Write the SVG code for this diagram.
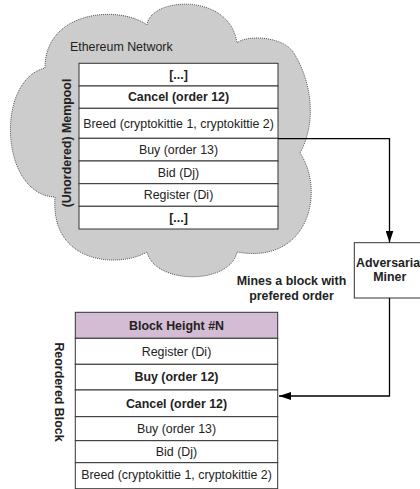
<svg xmlns="http://www.w3.org/2000/svg" width="420" height="489" viewBox="0 0 420 489">
<defs>
<style>
.t{font-family:"Liberation Sans",Arial,sans-serif;font-size:12.4px;fill:#222;text-anchor:middle}
.b{font-weight:bold}
.row{fill:#fff;stroke:#333;stroke-width:1}
.hdr{fill:#d4bdd4;stroke:#333;stroke-width:1}
.cloud{fill:#cccccc;stroke:#555;stroke-width:1;stroke-dasharray:1 1}
.conn{fill:none;stroke:#000;stroke-width:1.3}
</style>
<marker id="ah" markerWidth="12" markerHeight="8" refX="12" refY="4" orient="auto" markerUnits="userSpaceOnUse">
<path d="M0,0 L12,4 L0,8 Z" fill="#000"/>
</marker>
</defs>
<rect width="420" height="489" fill="#fff"/>
<g id="cloud">
<path class="cloud" d="M45,68 C45,10 120,5 147,25 C150,-3 230,-8 237,43 C245,35 285,35 295,55 C310,80 318,120 300,153 C325,190 310,265 237,252 C230,285 155,285 147,252 C120,268 50,265 55,197 C0,195 -5,80 45,68 Z"/>
<text class="t" x="70" y="50.5" style="text-anchor:start">Ethereum Network</text>
</g>
<g id="mempool">
<rect class="row" x="79" y="63.3" width="199" height="22.7"/>
<rect class="row" x="79" y="86" width="199" height="22.3"/>
<rect class="row" x="79" y="108.3" width="199" height="30"/>
<rect class="row" x="79" y="138.3" width="199" height="22.7"/>
<rect class="row" x="79" y="161" width="199" height="22.7"/>
<rect class="row" x="79" y="183.7" width="199" height="22.6"/>
<rect class="row" x="79" y="206.3" width="199" height="22.7"/>
<text class="t b" x="178.5" y="79">[...]</text>
<text class="t b" x="178.5" y="101.3">Cancel (order 12)</text>
<text class="t" x="178.5" y="127.5">Breed (cryptokittie 1, cryptokittie 2)</text>
<text class="t" x="178.5" y="153.8">Buy (order 13)</text>
<text class="t" x="178.5" y="176.5">Bid (Dj)</text>
<text class="t" x="178.5" y="199.2">Register (Di)</text>
<text class="t b" x="178.5" y="221.8">[...]</text>
<text class="t b" transform="translate(71,143) rotate(-90)">(Unordered) Mempool</text>
</g>
<g id="miner">
<rect class="row" x="354.3" y="242.7" width="71" height="55.3"/>
<text class="t b" x="389.8" y="266.5">Adversarial</text>
<text class="t b" x="389.8" y="281">Miner</text>
</g>
<g id="mine-label">
<text class="t b" x="291.5" y="285">Mines a block with</text>
<text class="t b" x="291.5" y="299.5">prefered order</text>
</g>
<g id="block">
<rect class="hdr" x="75.3" y="312.3" width="202.4" height="26"/>
<rect class="row" x="75.3" y="338.3" width="202.4" height="26"/>
<rect class="row" x="75.3" y="364.3" width="202.4" height="25.7"/>
<rect class="row" x="75.3" y="390" width="202.4" height="26.7"/>
<rect class="row" x="75.3" y="416.7" width="202.4" height="24"/>
<rect class="row" x="75.3" y="440.7" width="202.4" height="22"/>
<rect class="row" x="75.3" y="462.7" width="202.4" height="26"/>
<text class="t b" x="176.5" y="329.5">Block Height #N</text>
<text class="t" x="176.5" y="355.5">Register (Di)</text>
<text class="t b" x="176.5" y="381.3">Buy (order 12)</text>
<text class="t b" x="176.5" y="407.5">Cancel (order 12)</text>
<text class="t" x="176.5" y="433">Buy (order 13)</text>
<text class="t" x="176.5" y="456">Bid (Dj)</text>
<text class="t" x="176.5" y="479">Breed (cryptokittie 1, cryptokittie 2)</text>
<text class="t b" transform="translate(55,392) rotate(90)">Reordered Block</text>
</g>
<g id="connectors">
<path class="conn" d="M278,138.7 H389.5 V242.5" marker-end="url(#ah)"/>
<path class="conn" d="M389.5,298 V396 H279" marker-end="url(#ah)"/>
</g>
</svg>
